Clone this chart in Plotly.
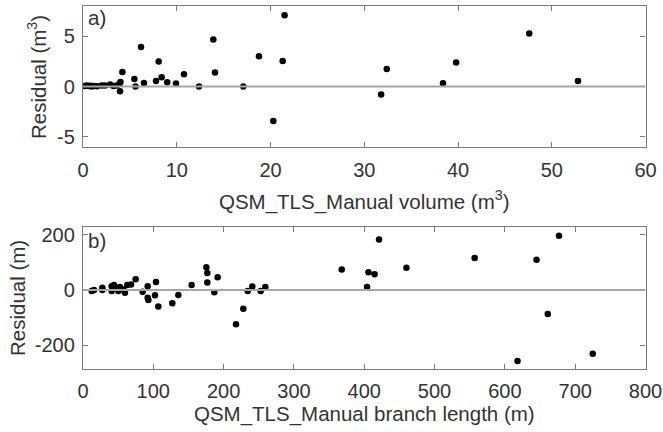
import plotly.graph_objects as go

# Panel a) volume residuals
vol_x = [0.2, 0.4, 0.6, 0.8, 0.9, 1.2, 1.5, 2.0, 2.35, 2.9, 3.25, 3.6, 3.88, 4.0, 3.95, 4.2,
         5.48, 5.6, 6.19, 6.5, 7.79, 8.07, 8.39, 8.98, 9.92, 10.77, 12.37, 13.9, 14.08,
         17.1, 18.77, 20.3, 21.3, 21.5, 31.8, 32.4, 38.4, 39.8, 47.6, 52.8]
vol_y = [0.05, 0.1, 0.05, 0.08, 0.0, 0.05, 0.03, 0.1, 0.1, 0.2, 0.05, 0.1, 0.26, 0.46, -0.46, 1.45,
         0.76, 0.0, 3.93, 0.36, 0.56, 2.5, 0.92, 0.43, 0.3, 1.22, 0.0, 4.67, 1.39,
         0.0, 3.0, -3.41, 2.55, 7.09, -0.79, 1.75, 0.33, 2.38, 5.26, 0.56]

# Panel b) branch length residuals
len_x = [12.3, 15.6, 27.5, 27.5, 40.8, 40.8, 44, 47.9, 50.3, 52.6, 57.4, 59.7, 63, 68.3, 74.9,
         84.8, 92, 92, 93, 102.4, 103.8, 107.1, 127, 135.6, 154.5, 175.4, 176.8, 176.8, 186.7,
         191.5, 217.6, 228, 234.3, 240.8, 252.7, 259.3, 368, 404, 406, 414.7, 421, 460, 557,
         618, 645, 661, 677, 725]
len_y = [-4, 0, 8, 0, 14, -4, 18, 8, -4, 11, 2, -10, 18, 20, 39,
         -6, 14, -28, -36, -19, 29, -60, -48, -18, 18, 83, 62, 27, -8,
         46, -124, -68, -4, 13, -4, 11, 75, 11, 65, 57, 184, 81, 116,
         -258, 110, -87, 197, -232]

x1_ticks = [0, 10, 20, 30, 40, 50, 60]
y1_ticks = [-5, 0, 5]
y1_labels = ["-5", "0", "5"]
x2_ticks = [0, 100, 200, 300, 400, 500, 600, 700, 800]
y2_ticks = [-200, 0, 200]
y2_labels = ["-200", "0", "200"]

W, H = 663, 432
FONT = "Liberation Sans, Arial, sans-serif"
TXT = "#333333"
AXC = "#7a7a7a"

def px_x(p):
    return p / W

def px_y(p):
    return 1 - p / H

fig = go.Figure()
fig.add_trace(go.Scatter(x=vol_x, y=vol_y, mode="markers", xaxis="x", yaxis="y",
                         marker=dict(color="black", size=6.5), showlegend=False))
fig.add_trace(go.Scatter(x=len_x, y=len_y, mode="markers", xaxis="x2", yaxis="y2",
                         marker=dict(color="black", size=6.5), showlegend=False))

axis_common = dict(showgrid=False, zeroline=False, showline=True, linecolor=AXC, linewidth=1.3,
                   mirror="ticks", ticks="inside", ticklen=5, tickcolor=AXC, tickwidth=1,
                   automargin=False,
                   tickfont=dict(family=FONT, size=20, color=TXT))

dom_x = [px_x(83), px_x(645.5)]
fig.update_layout(
    template="none",
    width=W, height=H, margin=dict(l=0, r=0, t=0, b=0, pad=0),
    paper_bgcolor="white", plot_bgcolor="white",
    xaxis=dict(domain=dom_x, range=[0, 60], tickvals=x1_ticks, anchor="y",
               ticklabelstandoff=5, **axis_common),
    yaxis=dict(domain=[px_y(147), px_y(6)], range=[-6, 8], tickvals=y1_ticks,
               ticktext=y1_labels, anchor="x", ticklabelstandoff=3, **axis_common),
    xaxis2=dict(domain=dom_x, range=[0, 800], tickvals=x2_ticks, anchor="y2",
                ticklabelstandoff=4, **axis_common),
    yaxis2=dict(domain=[px_y(369), px_y(227)], range=[-287, 229], tickvals=y2_ticks,
                ticktext=y2_labels, anchor="x2", ticklabelstandoff=3, **axis_common),
)

# zero reference lines drawn above the markers
fig.add_shape(type="line", xref="x", yref="y", x0=0, x1=60, y0=0, y1=0,
              line=dict(color="#a6a6a6", width=2), layer="above")
fig.add_shape(type="line", xref="x2", yref="y2", x0=0, x1=800, y0=0, y1=0,
              line=dict(color="#a6a6a6", width=2), layer="above")

tfont = dict(family=FONT, size=20.5, color=TXT)
ann = [
    dict(text="a)", x=px_x(86), y=px_y(17), xanchor="left", yanchor="middle"),
    dict(text="b)", x=px_x(86), y=px_y(240), xanchor="left", yanchor="middle"),
    dict(text="QSM_TLS_Manual volume (m<sup>3</sup>)", x=px_x(364), y=px_y(200),
         xanchor="center", yanchor="middle"),
    dict(text="QSM_TLS_Manual branch length (m)", x=px_x(364), y=px_y(414),
         xanchor="center", yanchor="middle"),
    dict(text="Residual (m<sup>3</sup>)", x=px_x(37), y=px_y(77), textangle=-90,
         xanchor="center", yanchor="middle"),
    dict(text="Residual (m)", x=px_x(17), y=px_y(298), textangle=-90,
         xanchor="center", yanchor="middle"),
]
for a in ann:
    fig.add_annotation(xref="paper", yref="paper", showarrow=False, font=tfont, **a)

post = (
    "document.documentElement.style.overflow='hidden';"
    "document.body.style.margin='0';"
    "document.body.style.padding='0';"
    "document.body.style.overflow='hidden';"
)
fig.write_html("out.html", config={"displayModeBar": False, "responsive": False},
               post_script=post)
